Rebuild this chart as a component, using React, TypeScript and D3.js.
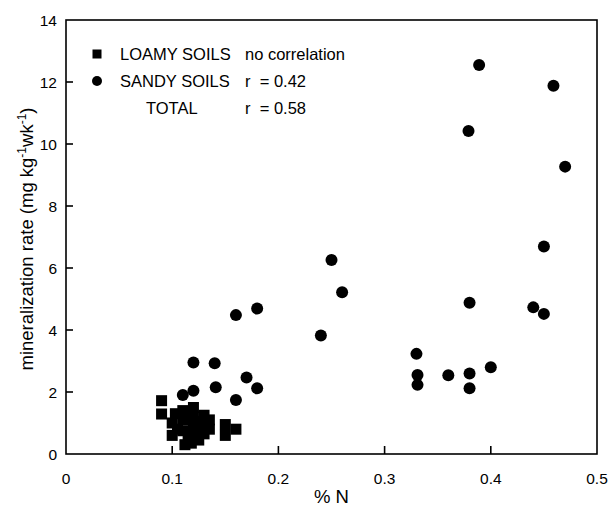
import React from "react";
import * as d3 from "d3";

const sandyN = [0.12, 0.14, 0.17, 0.18, 0.141, 0.12, 0.11, 0.16, 0.25, 0.26, 0.16, 0.18, 0.24, 0.33, 0.331, 0.331, 0.36, 0.38, 0.38, 0.4, 0.389, 0.379, 0.38, 0.459, 0.47, 0.45, 0.44, 0.45];
const sandyRate = [2.95, 2.93, 2.47, 2.12, 2.15, 2.04, 1.9, 1.74, 6.26, 5.22, 4.48, 4.69, 3.82, 3.23, 2.55, 2.23, 2.54, 2.6, 2.12, 2.8, 12.55, 10.42, 4.88, 11.88, 9.27, 6.69, 4.73, 4.52];

const loamyN = [0.09, 0.09, 0.1, 0.1, 0.103, 0.11, 0.11, 0.11, 0.112, 0.12, 0.12, 0.12, 0.12, 0.125, 0.13, 0.13, 0.13, 0.15, 0.15, 0.16, 0.105, 0.115, 0.125, 0.125, 0.135, 0.135, 0.118];
const loamyRate = [1.72, 1.29, 1.0, 0.6, 1.3, 1.4, 1.1, 0.75, 0.3, 1.5, 1.2, 0.9, 0.6, 0.45, 1.25, 0.95, 0.65, 0.95, 0.6, 0.8, 0.8, 0.55, 1.05, 0.75, 1.1, 0.8, 0.35];

const xTicks = [0, 0.1, 0.2, 0.3, 0.4, 0.5];
const yTicks = [0, 2, 4, 6, 8, 10, 12, 14];

const legendRows = [
  { label: "LOAMY SOILS", stat: "no correlation", marker: "square" },
  { label: "SANDY SOILS", stat: "r  = 0.42", marker: "circle" },
  { label: "TOTAL", stat: "r  = 0.58", marker: "none" },
];

export default function App() {
  const W = 612, H = 506;
  const left = 66, right = 597, top = 20, bottom = 454;
  const x = d3.scaleLinear().domain([0, 0.5]).range([left, right]);
  const y = d3.scaleLinear().domain([0, 14]).range([bottom, top]);
  const font = "Liberation Sans, Arial, sans-serif";
  const sq = 11;
  return (
    <svg width={W} height={H} style={{ position: "absolute", left: 0, top: 0, background: "#fff" }} fontFamily={font}>
      <rect x={left} y={top} width={right - left} height={bottom - top} fill="none" stroke="#000" strokeWidth={1.6} />
      {xTicks.map((t) => (
        <g key={"x" + t}>
          {t > 0 && t < 0.5 && <line x1={x(t)} x2={x(t)} y1={bottom} y2={bottom - 8} stroke="#000" strokeWidth={1.6} />}
          <text x={x(t)} y={484} fontSize={15.5} textAnchor="middle">{String(t)}</text>
        </g>
      ))}
      {yTicks.map((t) => (
        <g key={"y" + t}>
          {t > 0 && t < 14 && <line x1={left} x2={left + 7} y1={y(t)} y2={y(t)} stroke="#000" strokeWidth={1.6} />}
          <text x={57} y={y(t) + 5.5} fontSize={15.5} textAnchor="end">{t}</text>
        </g>
      ))}
      <text x={(left + right) / 2} y={503} fontSize={18.5} textAnchor="middle">% N</text>
      <text transform={`translate(33,${(top + bottom) / 2 + 2}) rotate(-90)`} fontSize={18.5} textAnchor="middle">
        mineralization rate (mg kg<tspan dy={-7} fontSize={12}>-1</tspan><tspan dy={7}>wk</tspan><tspan dy={-7} fontSize={12}>-1</tspan><tspan dy={7}>)</tspan>
      </text>
      {loamyN.map((n, i) => (
        <rect key={"l" + i} x={x(n) - sq / 2} y={y(loamyRate[i]) - sq / 2} width={sq} height={sq} fill="#000" />
      ))}
      {sandyN.map((n, i) => (
        <circle key={"s" + i} cx={x(n)} cy={y(sandyRate[i])} r={6} fill="#000" />
      ))}
      {legendRows.map((r, i) => {
        const cy = 54 + i * 27;
        return (
          <g key={"lg" + i}>
            {r.marker === "square" && <rect x={92.5} y={cy - 4.5} width={9} height={9} fill="#000" />}
            {r.marker === "circle" && <circle cx={97} cy={cy} r={5} fill="#000" />}
            <text x={r.marker === "none" ? 146 : 120} y={cy + 6} fontSize={16.5}>{r.label}</text>
            <text x={245} y={cy + 6} fontSize={16.5} style={{ whiteSpace: "pre" }}>{r.stat}</text>
          </g>
        );
      })}
    </svg>
  );
}
